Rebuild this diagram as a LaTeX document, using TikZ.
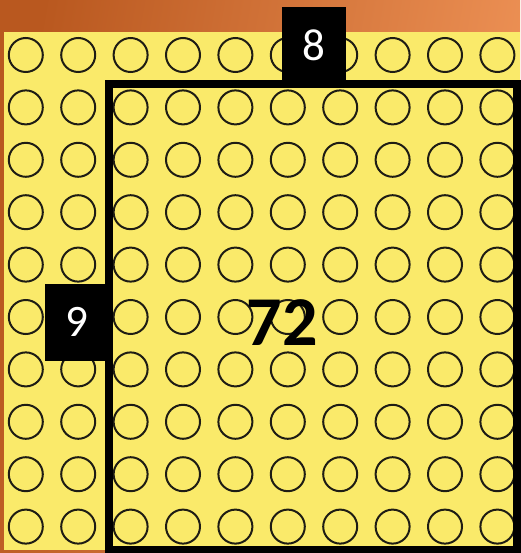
\documentclass[tikz,border=0pt]{standalone}
\usepackage{fontspec}
\setmainfont{Carlito}
\usetikzlibrary{positioning}
\definecolor{panel}{HTML}{FAEA6A}
\definecolor{rimdark}{HTML}{B9581F}
\definecolor{rimlight}{HTML}{F09458}
\definecolor{ringcol}{HTML}{1E1C14}

\begin{document}
\begin{tikzpicture}[x=1pt, y=-1pt,
  ring/.style={draw=ringcol, line width=2pt},
  tag/.style={fill=black, text=white, inner sep=0pt, minimum width=64pt, minimum height=77pt, font=\fontsize{45}{45}\selectfont}]
\useasboundingbox (0,0) rectangle (520,553);
\shade[left color=rimdark, right color=rimlight, shading angle=80] (0,0) rectangle (520,553);
\fill[panel] (4,32) rectangle (520,550);
% grid of counters
\foreach \r in {0,...,9}
  \foreach \c in {0,...,9}
    \draw[ring] (25.8+\c*52.4, 55+\r*52.4) circle (17);
\coordinate (tl) at (109,84);
\coordinate (br) at (517,550);
\draw[line width=8pt] (tl) rectangle (br);
\coordinate (topmid) at (314,84);
\coordinate (leftmid) at (109,322);
\node (eight) [tag, above=0pt of topmid] {8};
\node (nine) [tag, left=0pt of leftmid] {9};
\node (area) [font=\bfseries\fontsize{70}{70}\selectfont] at (282,323) {72};
\end{tikzpicture}
\end{document}
